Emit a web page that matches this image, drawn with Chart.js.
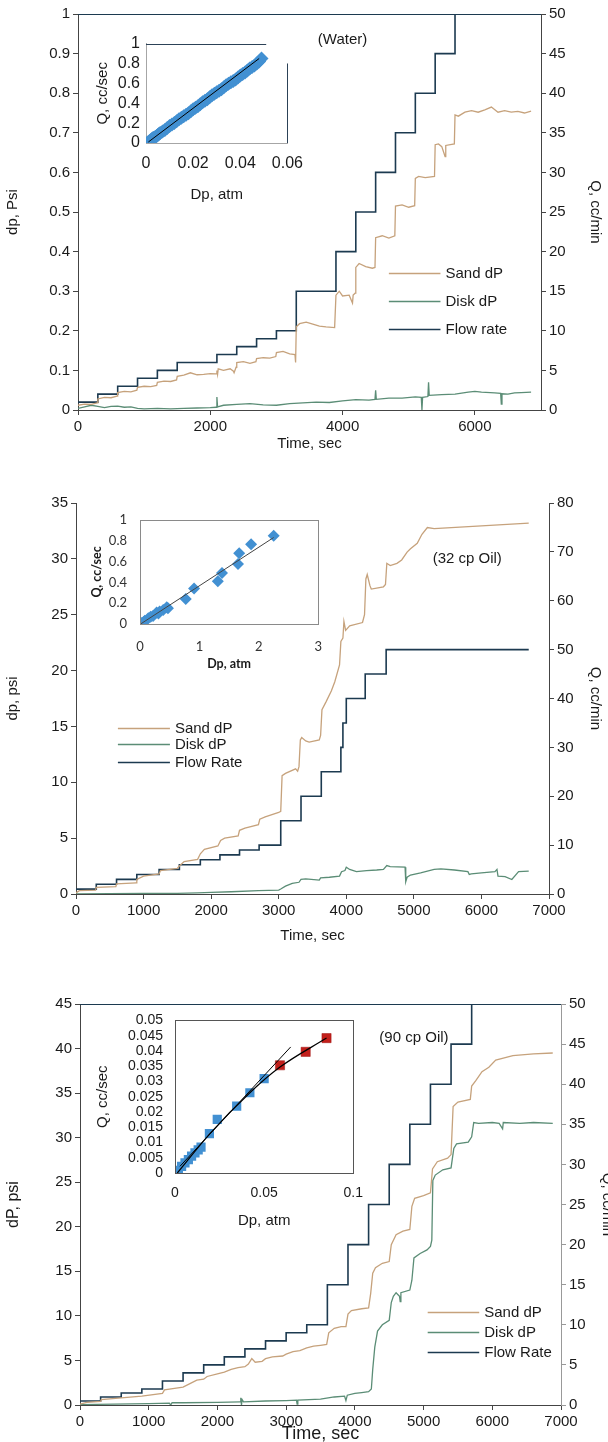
<!DOCTYPE html>
<html lang="en">
<head>
<meta charset="UTF-8">
<title>Sand pack dP vs time</title>
<script src="https://cdn.jsdelivr.net/npm/chart.js@4.4.1/dist/chart.umd.min.js"></script>
<style>
  body { margin: 0; background: #fff; }
  #page { position: relative; width: 608px; height: 1442px; background: #fff; overflow: hidden; }
  canvas { position: absolute; }
</style>
</head>
<body>
<div id="page">
  <canvas id="main1" width="608" height="455" style="left:0;top:0"></canvas>
  <canvas id="main2" width="608" height="477" style="left:0;top:470px"></canvas>
  <canvas id="main3" width="620" height="455" style="left:0;top:990px"></canvas>
  <canvas id="ins1" width="224" height="177" style="left:90px;top:28px"></canvas>
  <canvas id="ins2" width="252" height="176" style="left:85px;top:499px"></canvas>
  <canvas id="ins3" width="285" height="232" style="left:90px;top:1000px"></canvas>
</div>
<script>
// tick labels of the time axes
const timeTicks1 = [0, 2000, 4000, 6000];
const timeTicks = [0, 1000, 2000, 3000, 4000, 5000, 6000, 7000];

// ---- panel 1 (water): [time s, value] ----
const flow1 = [[0,1],[300,2],[600,3],[900,4],[1200,5],[1500,6],[2100,7],[2400,8],[2700,9],[3000,10],[3300,15],[3900,20],[4200,25],[4500,30],[4800,35],[5100,40],[5400,45],[5700,50],[6850,50]];
const sand1 = [[0,0.012],[100,0.015],[200,0.014],[290,0.018],[300,0.028],[400,0.032],[500,0.031],[590,0.035],
  [600,0.044],[700,0.047],[800,0.046],[890,0.05],[900,0.057],[1000,0.06],[1100,0.059],[1190,0.062],
  [1200,0.07],[1300,0.073],[1400,0.072],[1490,0.076],[1500,0.085],[1600,0.088],[1700,0.094],[1800,0.089],[1900,0.09],[2000,0.092],[2090,0.091],
  [2100,0.1],[2110,0.09],[2120,0.104],[2200,0.1],[2300,0.104],[2350,0.098],[2360,0.094],[2390,0.108],
  [2400,0.12],[2500,0.122],[2600,0.118],[2690,0.122],[2700,0.13],[2800,0.132],[2900,0.131],[2990,0.135],
  [3000,0.145],[3100,0.148],[3200,0.142],[3280,0.14],[3290,0.12],[3300,0.21],
  [3350,0.218],[3450,0.222],[3550,0.217],[3650,0.212],[3750,0.21],[3880,0.208],
  [3900,0.29],[3950,0.3],[4000,0.288],[4100,0.29],[4150,0.27],[4160,0.29],[4190,0.295],
  [4200,0.36],[4250,0.37],[4350,0.362],[4450,0.358],[4490,0.36],[4500,0.435],[4600,0.44],[4700,0.434],[4790,0.44],
  [4800,0.515],[4900,0.518],[5000,0.512],[5090,0.516],[5100,0.585],[5150,0.59],[5250,0.587],[5390,0.59],
  [5400,0.67],[5450,0.672],[5500,0.665],[5550,0.64],[5560,0.668],[5690,0.672],
  [5700,0.745],[5750,0.742],[5850,0.752],[5950,0.756],[6050,0.752],[6150,0.758],[6250,0.765],[6350,0.752],[6450,0.756],[6550,0.752],[6650,0.754],[6750,0.75],[6850,0.755]];
const disk1 = [[0,0.004],[100,0.008],[200,0.012],[300,0.009],[400,0.006],[500,0.009],[600,0.01],[700,0.007],[800,0.008],[900,0.004],
  [1000,0.003],[1200,0.004],[1400,0.003],[1600,0.004],[1800,0.005],[2000,0.006],[2090,0.007],[2100,0.033],[2110,0.008],
  [2200,0.012],[2400,0.014],[2600,0.016],[2800,0.013],[3000,0.012],[3200,0.016],[3400,0.018],[3600,0.02],[3800,0.019],
  [4000,0.023],[4200,0.026],[4400,0.025],[4490,0.027],[4500,0.05],[4510,0.027],[4700,0.03],[4900,0.03],[5100,0.033],
  [5190,0.032],[5200,0],[5210,0.032],[5290,0.034],[5300,0.07],[5310,0.037],[5500,0.039],[5700,0.04],[5900,0.045],
  [6000,0.047],[6100,0.045],[6300,0.043],[6390,0.042],[6400,0.015],[6410,0.041],[6500,0.04],[6600,0.043],[6700,0.044],[6850,0.045]];

// ---- panel 2 (32 cp oil) ----
const flow2 = [[0,1],[300,2],[600,3],[900,4],[1230,5],[1530,6],[1840,7],[2130,8],[2420,9],[2710,10],[3030,15],[3330,20],[3630,25],[3920,30],[3950,35],[4000,40],[4280,45],[4590,50],[6700,50]];
const sand2 = [[0,0.1],[50,0.3],[290,0.35],[300,0.6],[590,0.65],[600,0.9],[890,1.0],[900,1.3],[1000,1.6],[1230,1.8],[1250,2.1],[1500,2.3],
  [1530,2.5],[1600,2.9],[1800,3.1],[1840,3.6],[1900,4.0],[2100,4.3],[2140,4.8],[2200,5.0],[2400,5.2],[2420,5.7],[2500,5.9],[2700,6.2],
  [2720,6.7],[2800,6.9],[3000,7.3],[3030,7.4],[3050,10.6],[3100,10.8],[3250,11.2],[3280,11.0],[3300,11.4],[3320,13.8],[3340,14.0],
  [3400,13.7],[3450,13.6],[3600,13.8],[3620,14.2],[3640,16.5],[3700,17.2],[3780,18.2],[3830,19.0],[3900,20.5],[3920,22.6],[3950,22.9],
  [3965,24.4],[3990,23.6],[4050,24.0],[4240,24.3],[4270,25.0],[4290,28.2],[4310,28.6],[4350,27.6],[4370,27.3],[4550,27.5],[4580,27.7],
  [4600,29.6],[4650,29.4],[4750,29.6],[4820,29.9],[4900,30.6],[4950,30.9],[5050,31.4],[5120,32.2],[5200,32.8],[5300,32.7],[6700,33.2]];
const disk2 = [[0,0.02],[500,0.03],[1000,0.05],[1500,0.06],[1800,0.1],[2000,0.15],[2300,0.2],[2700,0.3],[3000,0.35],[3030,0.45],[3100,0.7],
  [3200,0.95],[3300,1.05],[3330,1.3],[3400,1.35],[3600,1.25],[3620,1.45],[3750,1.5],[3900,1.6],[3930,2.0],[3980,2.1],[4000,2.4],[4050,2.2],
  [4150,2.0],[4300,2.1],[4450,2.15],[4550,2.2],[4600,2.55],[4650,2.45],[4870,2.4],[4880,1.1],[4900,1.5],[4950,1.7],[5100,1.9],[5300,2.2],
  [5400,2.25],[5600,2.15],[5800,2.0],[5820,1.75],[5850,1.8],[6000,1.9],[6200,2.0],[6230,2.2],[6245,1.6],[6350,1.55],[6450,1.3],[6550,2.0],[6700,2.05]];

// ---- panel 3 (90 cp oil) ----
const flow3 = [[0,0.5],[300,1],[600,1.5],[900,2],[1200,3],[1500,4],[1800,5],[2100,6],[2400,7],[2700,8],[3000,9],[3300,10],[3600,15],[3900,20],[4200,25],[4500,30],[4800,35],[5100,40],[5400,45],[5700,50],[6880,50]];
const sand3 = [[0,0.1],[100,0.3],[300,0.4],[310,0.6],[600,0.8],[900,1.0],[1200,1.3],[1230,1.7],[1400,1.9],[1500,2.0],[1600,2.4],[1700,2.8],
  [1800,2.9],[1850,3.2],[2000,3.5],[2100,3.7],[2200,4.0],[2300,4.2],[2400,4.3],[2450,4.6],[2500,5.2],[2550,4.8],[2650,4.9],[2700,5.2],
  [2800,5.4],[2950,5.5],[3000,5.7],[3100,6.0],[3200,6.1],[3300,6.4],[3400,6.6],[3500,6.7],[3590,6.8],[3620,8.1],[3700,8.6],[3800,8.8],
  [3870,8.8],[3900,10.2],[3950,10.6],[4100,10.8],[4200,10.9],[4230,12.5],[4260,14.8],[4300,15.4],[4400,15.9],[4500,16.1],[4530,18.0],
  [4600,19.1],[4700,19.5],[4800,19.7],[4830,22.3],[4870,23.2],[5000,23.5],[5100,23.8],[5130,26.5],[5200,27.3],[5350,27.7],[5400,28.1],
  [5430,33.5],[5500,34.0],[5680,34.3],[5700,35.8],[5760,36.4],[5850,37.4],[5950,37.9],[6050,38.7],[6300,39.2],[6600,39.4],[6880,39.5]];
const disk3 = [[0,0.05],[500,0.1],[1000,0.15],[1300,0.2],[1320,0],[1340,0.25],[1500,0.25],[2000,0.3],[2330,0.35],[2340,0.8],[2350,0],
  [2360,0.6],[2380,0.35],[2700,0.45],[3000,0.5],[3150,0.55],[3160,0.1],[3170,0.55],[3500,0.65],[3700,0.9],[3850,1.0],[3870,0.5],[3890,1.1],
  [4000,1.3],[4100,1.4],[4200,1.5],[4240,1.8],[4260,4.0],[4290,6.5],[4330,8.3],[4400,9.0],[4500,9.5],[4530,11.5],[4560,12.2],[4600,12.6],
  [4650,12.2],[4660,11.6],[4670,12.6],[4800,12.9],[4830,14.0],[4860,16.5],[4950,17.0],[5050,17.4],[5100,17.8],[5120,18.5],[5135,25.2],
  [5170,25.8],[5280,26.4],[5400,26.6],[5440,28.8],[5480,29.3],[5650,29.5],[5700,30.1],[5730,31.7],[5800,31.6],[6000,31.7],[6100,31.6],
  [6150,31.0],[6160,31.7],[6400,31.6],[6600,31.7],[6880,31.6]];

// ---- insets: [Dp atm, Q cc/sec] ----
const ins1Pts = [[0.0005,0],[0.001,0.01],[0.0015,0.02],[0.002,0.03],[0.0025,0.04],[0.003,0.05],[0.0035,0.055],[0.004,0.06],[0.0045,0.07],
  [0.005,0.08],[0.0055,0.09],[0.006,0.1],[0.007,0.115],[0.008,0.13],[0.009,0.15],[0.01,0.17],[0.011,0.185],[0.012,0.2],[0.013,0.22],
  [0.014,0.24],[0.015,0.255],[0.016,0.27],[0.017,0.285],[0.018,0.3],[0.019,0.32],[0.02,0.34],[0.021,0.355],[0.022,0.37],[0.023,0.39],
  [0.024,0.41],[0.025,0.425],[0.026,0.44],[0.027,0.46],[0.028,0.48],[0.029,0.495],[0.03,0.51],[0.031,0.525],[0.032,0.54],[0.033,0.56],
  [0.034,0.58],[0.035,0.595],[0.036,0.61],[0.037,0.625],[0.038,0.64],[0.039,0.66],[0.04,0.68],[0.041,0.695],[0.042,0.71],[0.043,0.73],
  [0.044,0.75],[0.045,0.765],[0.046,0.78],[0.047,0.8],[0.048,0.82],[0.049,0.85]];
const ins1Fit = [[0.001,0.01],[0.048,0.85]];
const ins2Pts = [[0.01,0],[0.03,0.01],[0.06,0.02],[0.08,0.03],[0.14,0.055],[0.18,0.07],[0.22,0.077],[0.28,0.11],[0.31,0.1],[0.33,0.12],
  [0.39,0.135],[0.45,0.16],[0.47,0.15],[0.77,0.24],[0.91,0.34],[1.31,0.41],[1.38,0.49],[1.65,0.577],[1.67,0.68],[1.87,0.766],[2.25,0.846]];
const ins2Fit = [[0.01,0],[2.25,0.83]];
const ins3Blue = [[0.0006,0],[0.0019,0.0009],[0.0037,0.0022],[0.0056,0.0033],[0.0075,0.0044],[0.0093,0.0055],[0.0112,0.0066],
  [0.013,0.0076],[0.0146,0.0085],[0.0193,0.0129],[0.0237,0.0176],[0.0346,0.0219],[0.042,0.0263],[0.05,0.0309]];
const ins3Red = [[0.0589,0.0353],[0.0733,0.0397],[0.085,0.0442]];
const ins3Line = [[0.0028,0.0022],[0.0649,0.0413]];
const ins3Curve = [[0.0013,0],[0.0196,0.0129],[0.042,0.0263],[0.0589,0.0347],[0.085,0.0442]];

const SAND = '#c6a27c', DISK = '#5b8d76', FLOW = '#1c3a50', BLUE = '#4290d2', RED = '#c21f1b', TXT = '#1a1a1a';
const FONT = "'Liberation Sans', Arial, sans-serif";

function pts(arr) { return arr.map(p => ({ x: p[0], y: p[1] })); }
function num(v) { return String(+v.toFixed(6)); }

// frame, legend and note text drawn on top of the chart
const annot = {
  id: 'annot',
  afterDraw(chart, args, o) {
    const ctx = chart.ctx, a = chart.chartArea, sx = chart.scales.x, sy = chart.scales.y;
    ctx.save();
    ctx.lineWidth = 1;
    if (o.frame) {
      ctx.strokeStyle = o.frame;
      ctx.strokeRect(Math.round(a.left) + 0.5, Math.round(a.top) + 0.5, Math.round(a.width), Math.round(a.height));
    }
    if (o.topLine) {
      const xe = o.topEnd != null ? sx.getPixelForValue(o.topEnd) : a.right;
      ctx.strokeStyle = o.topLine;
      ctx.beginPath(); ctx.moveTo(a.left, Math.round(a.top) + 0.5); ctx.lineTo(xe, Math.round(a.top) + 0.5); ctx.stroke();
    }
    if (o.rightLine) {
      const xr = Math.round(a.right) + 0.5;
      ctx.strokeStyle = o.rightLine;
      ctx.beginPath(); ctx.moveTo(xr, sy.getPixelForValue(o.rightFrom)); ctx.lineTo(xr, a.bottom); ctx.stroke();
    }
    ctx.fillStyle = TXT;
    ctx.textBaseline = 'middle';
    if (o.legend) {
      const L = o.legend;
      ctx.font = L.font;
      chart.data.datasets.forEach((ds, i) => {
        const yy = Math.round(sy.getPixelForValue(L.y[i])) + 0.5;
        const x0 = sx.getPixelForValue(L.x0), x1 = sx.getPixelForValue(L.x1);
        ctx.strokeStyle = ds.borderColor; ctx.lineWidth = 1.6;
        ctx.beginPath(); ctx.moveTo(x0, yy); ctx.lineTo(x1, yy); ctx.stroke();
        ctx.textAlign = 'left';
        ctx.fillText(ds.label, x1 + 5, yy);
      });
    }
    if (o.note) {
      ctx.font = o.note.font;
      ctx.textAlign = 'center';
      ctx.fillText(o.note.text, sx.getPixelForValue(o.note.x), sy.getPixelForValue(o.note.y));
    }
    ctx.restore();
  }
};

function mainChart(id, c) {
  const tf = { family: FONT, size: 15 };
  const side = (pos, max, step, w, title, col, tsize) => ({
    type: 'linear', position: pos, axis: 'y', min: 0, max: max,
    ticks: { stepSize: step, autoSkip: false, font: tf, color: TXT, padding: 3, callback: num },
    grid: { drawOnChartArea: false, tickLength: 5, color: col },
    border: { color: col },
    title: { display: true, text: title, font: { family: FONT, size: tsize }, color: TXT },
    afterFit: s => { s.width = w; }
  });
  return new Chart(document.getElementById(id), {
    type: 'line',
    data: { datasets: [
      { label: 'Sand dP', data: pts(c.sand), borderColor: SAND, borderWidth: 1.3, yAxisID: 'y' },
      { label: 'Disk dP', data: pts(c.disk), borderColor: DISK, borderWidth: 1.3, yAxisID: 'y' },
      { label: c.flowLabel, data: pts(c.flow), borderColor: FLOW, borderWidth: 1.6, stepped: true, yAxisID: 'q' }
    ]},
    options: {
      responsive: false, animation: false, events: [],
      elements: { point: { radius: 0 }, line: { tension: 0 } },
      layout: { autoPadding: false, padding: { top: c.top, left: 0, right: 0, bottom: 0 } },
      plugins: { legend: { display: false }, tooltip: { enabled: false }, annot: c.annot },
      scales: {
        x: {
          type: 'linear', min: 0, max: 7000,
          ticks: { autoSkip: false, maxRotation: 0, font: tf, color: TXT, padding: 3, callback: num },
          afterBuildTicks: s => { s.ticks = c.xTicks.map(v => ({ value: v })); },
          grid: { drawOnChartArea: false, tickLength: 5, color: '#444' },
          border: { color: '#444' },
          title: { display: true, text: 'Time, sec', font: { family: FONT, size: c.xTitleSize }, color: TXT, padding: { top: 0, bottom: c.xTitlePad } },
          afterFit: s => { s.height = c.xh; }
        },
        y: side('left', c.yMax, c.yStep, c.yw, c.yTitle, '#444', c.yTitleSize),
        q: side('right', c.qMax, c.qStep, c.qw, 'Q, cc/min', c.qCol, 15)
      }
    },
    plugins: [annot]
  });
}

function insetChart(id, c) {
  const tf = { family: c.font, size: c.tickSize };
  const tt = { family: c.font, size: c.titleSize, weight: c.titleWeight };
  return new Chart(document.getElementById(id), {
    type: 'scatter',
    data: { datasets: c.datasets },
    options: {
      responsive: false, animation: false, events: [],
      layout: { autoPadding: false, padding: { top: c.top, right: c.right, left: 0, bottom: 0 } },
      plugins: { legend: { display: false }, tooltip: { enabled: false }, annot: c.annot },
      scales: {
        x: {
          type: 'linear', min: 0, max: c.xMax,
          ticks: { stepSize: c.xStep, autoSkip: false, maxRotation: 0, font: tf, color: c.tickCol, padding: c.xPad, callback: num },
          grid: { display: false, drawTicks: false }, border: { display: c.axisLine, color: '#a6a6a6' },
          title: { display: true, text: 'Dp, atm', font: tt, color: TXT, padding: { top: 0, bottom: c.xTitlePad } },
          afterFit: s => { s.height = c.xh; }
        },
        y: {
          type: 'linear', min: 0, max: c.yMax,
          ticks: { stepSize: c.yStep, autoSkip: false, font: tf, color: c.tickCol, padding: c.yPad, callback: num },
          grid: { display: false, drawTicks: false }, border: { display: c.axisLine, color: '#a6a6a6' },
          title: { display: true, text: 'Q, cc/sec', font: tt, color: TXT },
          afterFit: s => { s.width = c.yw; }
        }
      }
    },
    plugins: [annot]
  });
}

mainChart('main1', {
  sand: sand1, disk: disk1, flow: flow1, flowLabel: 'Flow rate',
  top: 14, xh: 45, yw: 78, qw: 67, xTicks: timeTicks1, xTitleSize: 15, xTitlePad: 2,
  yMax: 1, yStep: 0.1, yTitle: 'dp, Psi', yTitleSize: 15, qMax: 50, qStep: 5, qCol: '#444',
  annot: { topLine: '#1c3a50',
    legend: { x0: 4700, x1: 5480, y: [0.345, 0.275, 0.205], font: '15px ' + FONT },
    note: { text: '(Water)', x: 4000, y: 0.935, font: '15px ' + FONT } }
});
mainChart('main2', {
  sand: sand2, disk: disk2, flow: flow2, flowLabel: 'Flow Rate',
  top: 33, xh: 53, yw: 76, qw: 59, xTicks: timeTicks, xTitleSize: 15, xTitlePad: 2,
  yMax: 35, yStep: 5, yTitle: 'dp, psi', yTitleSize: 15, qMax: 80, qStep: 10, qCol: '#444',
  annot: {
    legend: { x0: 620, x1: 1390, y: [14.9, 13.4, 11.85], font: '15px ' + FONT },
    note: { text: '(32 cp Oil)', x: 5790, y: 30.0, font: '15px ' + FONT } }
});
mainChart('main3', {
  sand: sand3, disk: disk3, flow: flow3, flowLabel: 'Flow Rate',
  top: 14, xh: 40, yw: 80, qw: 59, xTicks: timeTicks, xTitleSize: 18, xTitlePad: 0,
  yMax: 45, yStep: 5, yTitle: 'dP, psi', yTitleSize: 16, qMax: 50, qStep: 5, qCol: '#999',
  annot: { topLine: '#1c3a50',
    legend: { x0: 5060, x1: 5810, y: [10.4, 8.15, 5.95], font: '15px ' + FONT },
    note: { text: '(90 cp Oil)', x: 4860, y: 41.25, font: '15px ' + FONT } }
});

insetChart('ins1', {
  datasets: [
    { data: pts(ins1Fit), showLine: true, borderColor: '#000', borderWidth: 1, pointRadius: 0 },
    { data: pts(ins1Pts), pointStyle: 'rectRot', pointRadius: 7, backgroundColor: BLUE, borderColor: BLUE, borderWidth: 0 }
  ],
  font: FONT, tickSize: 16, titleSize: 15, titleWeight: 'normal', tickCol: TXT,
  top: 13, right: 18, xh: 62, yw: 56, xPad: 11, yPad: 6, xTitlePad: 1,
  xMax: 0.06, xStep: 0.02, yMax: 1, yStep: 0.2, axisLine: true,
  annot: { topLine: '#2c4257', topEnd: 0.051, rightLine: '#2c4257', rightFrom: 0.8 }
});
insetChart('ins2', {
  datasets: [
    { data: pts(ins2Fit), showLine: true, borderColor: '#444', borderWidth: 1, pointRadius: 0 },
    { data: pts(ins2Pts), pointStyle: 'rectRot', pointRadius: 6, backgroundColor: BLUE, borderColor: BLUE, borderWidth: 0 }
  ],
  font: "Lato, 'Open Sans', sans-serif", tickSize: 13, titleSize: 12.5, titleWeight: 'bold', tickCol: '#333',
  top: 14, right: 16, xh: 51, yw: 55, xPad: 15, yPad: 13, xTitlePad: 4,
  xMax: 3, xStep: 1, yMax: 1, yStep: 0.2, axisLine: false,
  annot: { frame: '#8a8a8a' }
});
insetChart('ins3', {
  datasets: [
    { data: pts(ins3Line), showLine: true, borderColor: '#000', borderWidth: 1, pointRadius: 0 },
    { data: pts(ins3Curve), showLine: true, borderColor: '#000', borderWidth: 1.2, pointRadius: 0, tension: 0.4, cubicInterpolationMode: 'monotone' },
    { data: pts(ins3Red), pointStyle: 'rect', pointRadius: 6.5, backgroundColor: RED, borderColor: '#9e1512', borderWidth: 0.5 },
    { data: pts(ins3Blue), pointStyle: 'rect', pointRadius: 6.5, backgroundColor: BLUE, borderColor: BLUE, borderWidth: 0 }
  ],
  font: FONT, tickSize: 14, titleSize: 15, titleWeight: 'normal', tickCol: TXT,
  top: 15, right: 17, xh: 59, yw: 85, xPad: 12, yPad: 12, xTitlePad: 2,
  xMax: 0.1, xStep: 0.05, yMax: 0.05, yStep: 0.005, axisLine: false,
  annot: { frame: '#555' }
});
</script>
</body>
</html>
